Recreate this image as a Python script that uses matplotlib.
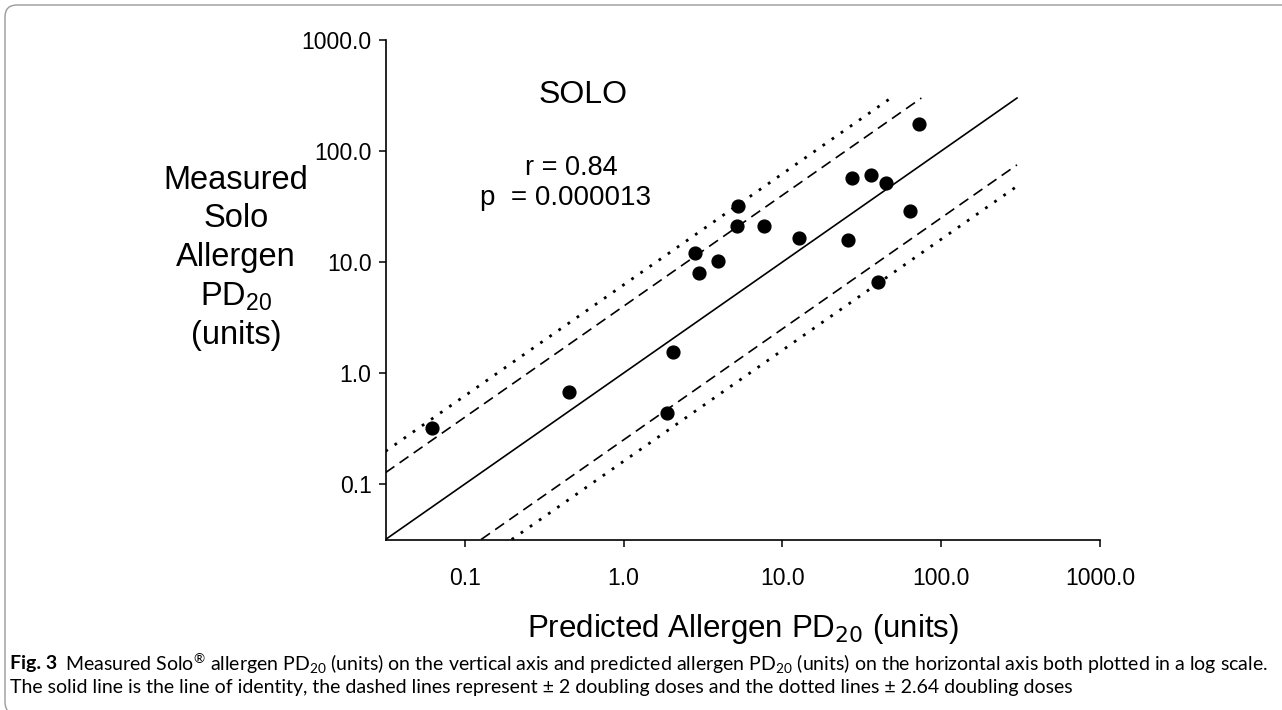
import numpy as np
import matplotlib
matplotlib.use("Agg")
import matplotlib.pyplot as plt
from matplotlib.patches import FancyBboxPatch

plt.rcParams['font.family'] = ['Liberation Sans', 'DejaVu Sans']

# predicted vs measured Solo allergen PD20 (units)
predicted = [0.062, 0.45, 1.88, 2.04, 2.8, 3.0, 3.9, 5.2, 5.25, 7.6,
             12.7, 26, 27.5, 36, 45, 64, 72, 40]
measured = [0.32, 0.68, 0.44, 1.56, 12.0, 7.9, 10.3, 21, 32, 21,
            16.4, 15.9, 57, 61, 52, 29, 174, 6.6]

doubling_dashed = 2.0
doubling_dotted = 2.64
axis_min = 10 ** -1.5
axis_max = 1000.0
line_top = 300.0

tick_values = [0.1, 1.0, 10.0, 100.0, 1000.0]
tick_labels = ["0.1", "1.0", "10.0", "100.0", "1000.0"]

W, H = 1282, 710
fig = plt.figure(figsize=(W / 100, H / 100), dpi=100)
ax = fig.add_axes([385.5 / W, 1 - 539.5 / H, (1100 - 385.5) / W, (539.5 - 40) / H])

ax.set_xscale('log')
ax.set_yscale('log')
ax.set_xlim(axis_min, axis_max)
ax.set_ylim(axis_min, axis_max)


def band_line(factor, **kw):
    # y = factor * x, clipped to the axis bottom/left and to line_top
    x0 = max(axis_min, axis_min / factor)
    x1 = min(line_top, line_top / factor)
    xs = np.array([x0, x1])
    ax.plot(xs, xs * factor, color='black', **kw)


band_line(1.0, lw=1.2, linestyle='-')
f_dash = 2 ** doubling_dashed
f_dot = 2 ** doubling_dotted
for f in (f_dash, 1 / f_dash):
    band_line(f, lw=1.2, linestyle=(0, (6.5, 3.8)))
for f in (f_dot, 1 / f_dot):
    band_line(f, lw=2.0, linestyle=(0, (1.0, 3.0)))

ax.scatter(predicted, measured, s=85, color='black', zorder=3)

ax.spines['top'].set_visible(False)
ax.spines['right'].set_visible(False)
for s in ('left', 'bottom'):
    ax.spines[s].set_linewidth(1.2)

ax.minorticks_off()
ax.set_xticks(tick_values)
ax.set_xticklabels(tick_labels)
ax.set_yticks(tick_values)
ax.set_yticklabels(tick_labels)
ax.tick_params(axis='both', direction='out', length=5, width=1.1,
               labelsize=16.5, colors='black')
ax.tick_params(axis='x', pad=15)
ax.tick_params(axis='y', pad=5)

ax.set_xlabel("Predicted Allergen PD$_{20}$ (units)", fontsize=22.5, labelpad=16)

fig.text(236 / W, 1 - 258 / H,
         "Measured\nSolo\nAllergen\nPD$\\mathregular{_{20}}$\n(units)",
         ha='center', va='center', multialignment='center',
         fontsize=23.5, linespacing=1.3)

fig.text(583 / W, 1 - 95 / H, "SOLO", ha='center', va='center', fontsize=23)
fig.text(571 / W, 1 - 168 / H, "r = 0.84", ha='center', va='center', fontsize=19.5)
fig.text(566 / W, 1 - 198 / H, "p  = 0.000013", ha='center', va='center', fontsize=20)

# caption
cap_font = ['Liberation Sans Narrow', 'Lato', 'DejaVu Sans']
cap_size = 14
t_fig = fig.text(10 / W, 1 - 664 / H, "Fig. 3", family=cap_font, fontsize=cap_size,
                 fontweight='bold', ha='left', va='center')
fig.canvas.draw()
bb = t_fig.get_window_extent()
fig.text((bb.x1 + 8) / W, 1 - 664 / H,
         "Measured Solo$\\mathregular{^{®}}$ allergen PD$\\mathregular{_{20}}$ (units) on the vertical axis "
         "and predicted allergen PD$\\mathregular{_{20}}$ (units) on the horizontal axis both plotted in a log scale.",
         family=cap_font, fontsize=cap_size, ha='left', va='center')
fig.text(10 / W, 1 - 688 / H,
         "The solid line is the line of identity, the dashed lines represent \u00b1 2 doubling doses "
         "and the dotted lines \u00b1 2.64 doubling doses",
         family=cap_font, fontsize=cap_size, ha='left', va='center')

# rounded frame on the left/top, bottom edge just below the picture
frame = FancyBboxPatch((5, -4), W + 40, H - 1, boxstyle="round,pad=0,rounding_size=12",
                       transform=None, fill=False, edgecolor='#9a9a9a', lw=1.0)
fig.add_artist(frame)

fig.savefig("out.png", dpi=100)
